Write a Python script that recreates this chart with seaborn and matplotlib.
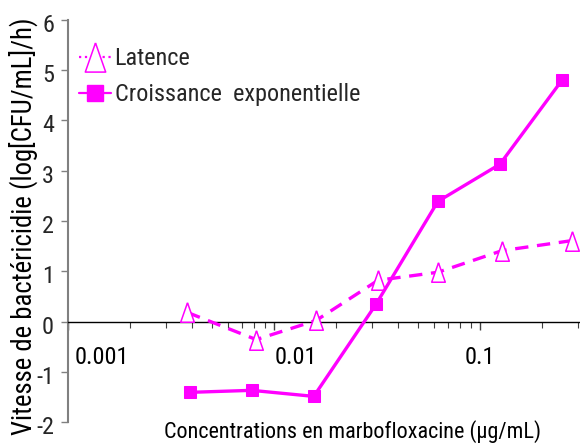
import matplotlib
matplotlib.use("Agg")
import matplotlib.pyplot as plt
import matplotlib.transforms as mtransforms
from matplotlib import font_manager
from matplotlib.lines import Line2D
import numpy as np
import pandas as pd
import seaborn as sns

# Concentrations (µg/mL) and bactericidal rates (log[CFU/mL]/h)
conc_latence = [0.0038, 0.0082, 0.016, 0.032, 0.0625, 0.128, 0.28]
rate_latence = [0.18, -0.36, 0.02, 0.82, 0.98, 1.41, 1.61]

conc_expo = [0.0039, 0.0078, 0.0156, 0.03125, 0.0625, 0.125, 0.25]
rate_expo = [-1.41, -1.37, -1.49, 0.34, 2.39, 3.13, 4.8]

series_names = ["Latence", "Croissance  exponentielle"]
x_tick_values = [0.001, 0.01, 0.1]
x_tick_labels = ["0.001", "0.01", "0.1"]
x_label_shift_px = [34, 22, 0]
y_ticks = [-2, -1, 0, 1, 2, 3, 4, 5, 6]

df_lat = pd.DataFrame({"conc": conc_latence, "rate": rate_latence})
df_exp = pd.DataFrame({"conc": conc_expo, "rate": rate_expo})

sns.set_theme(style="white")

# pick a condensed sans face when one is installed
names = {f.name for f in font_manager.fontManager.ttflist}
condensed = None
for cand in ("Liberation Sans Narrow", "Roboto Condensed", "DejaVu Sans Condensed"):
    if cand in names:
        condensed = cand
        break

if condensed:
    plt.rcParams["font.family"] = [condensed, "Liberation Sans", "DejaVu Sans"]
    FS = 17.5
    FS_Y = 19.3
else:
    plt.rcParams["font.family"] = ["Liberation Sans", "DejaVu Sans"]
    FS = 15
    FS_Y = 16

MAGENTA = "#FF00FF"
tri = [(0, 1.0), (-0.7, -1.0), (0.7, -1.0), (0, 1.0)]

fig = plt.figure(figsize=(5.8, 4.44), dpi=100)
ax = fig.add_axes([68 / 580, 22 / 444, 512 / 580, 402 / 444])

sns.lineplot(data=df_lat, x="conc", y="rate", ax=ax, sort=False,
             color=MAGENTA, linewidth=2.4, linestyle=(0, (4, 2.6)),
             marker=tri, markersize=14, markerfacecolor="white",
             markeredgecolor=MAGENTA, markeredgewidth=1.1, zorder=3)
sns.lineplot(data=df_exp, x="conc", y="rate", ax=ax, sort=False,
             color=MAGENTA, linewidth=2.4, linestyle="-",
             marker="s", markersize=9, markerfacecolor=MAGENTA,
             markeredgecolor=MAGENTA, zorder=4)

ax.set_xscale("log")
ax.set_xlim(0.001, 0.306)
ax.set_ylim(-2, 6)

# axes frame: gray left spine, black x axis crossing at zero
for s in ("top", "right"):
    ax.spines[s].set_visible(False)
ax.spines["left"].set_color("#808080")
ax.spines["left"].set_linewidth(1.5)
ax.spines["bottom"].set_position(("data", 0))
ax.spines["bottom"].set_color("black")
ax.spines["bottom"].set_linewidth(1.0)

ax.set_yticks(y_ticks)
ax.set_yticklabels([str(v) for v in y_ticks])
ax.tick_params(axis="y", direction="out", length=5, width=1,
               color="#808080", labelsize=FS, pad=5, left=True)
for lab in ax.get_yticklabels():
    lab.set_transform(lab.get_transform() +
                      mtransforms.ScaledTranslation(0, -0.03, fig.dpi_scale_trans))

ax.set_xticks(x_tick_values)
ax.set_xticklabels([])
ax.xaxis.set_minor_locator(matplotlib.ticker.LogLocator(base=10, subs=np.arange(2, 10)))
ax.xaxis.set_minor_formatter(matplotlib.ticker.NullFormatter())
ax.tick_params(axis="x", which="major", direction="out", length=6, width=1,
               color="#404040", bottom=True)
ax.tick_params(axis="x", which="minor", direction="out", length=4, width=0.8,
               color="#404040", bottom=True)

for v, lab, dx in zip(x_tick_values, x_tick_labels, x_label_shift_px):
    tr = ax.transData + mtransforms.ScaledTranslation(dx / 100, 0, fig.dpi_scale_trans)
    ax.text(v, -0.72, lab, transform=tr, ha="center", va="center",
            fontsize=FS, color="black")

ax.set_xlabel("Concentrations en marbofloxacine (µg/mL)", fontsize=FS * 0.91,
              color="black", va="bottom")
ax.xaxis.set_label_coords(0.556, -0.052)
ax.set_ylabel("Vitesse de bactéricidie (log[CFU/mL]/h)", fontsize=FS_Y,
              color="black", va="center")
ax.yaxis.set_label_coords(-0.088, 0.486)

handles = [
    Line2D([], [], color=MAGENTA, linestyle=":", linewidth=1.6,
           marker=tri, markersize=21, markerfacecolor="white",
           markeredgecolor=MAGENTA, markeredgewidth=1.1),
    Line2D([], [], color=MAGENTA, linestyle="-", linewidth=1.6,
           marker="s", markersize=12, markerfacecolor=MAGENTA,
           markeredgecolor=MAGENTA),
]
ax.legend(handles, series_names, loc="upper left", bbox_to_anchor=(0.003, 0.957),
          frameon=False, fontsize=FS, handlelength=1.3, handletextpad=0.15,
          labelspacing=0.55, borderaxespad=0)

fig.savefig("out.png", dpi=100)
